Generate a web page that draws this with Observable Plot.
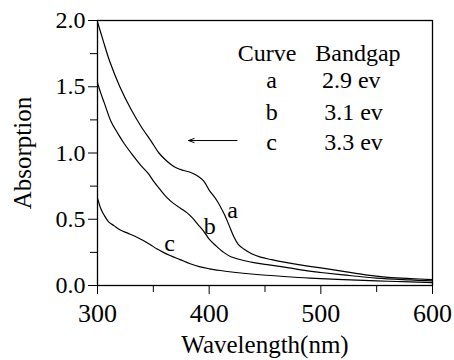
<!DOCTYPE html>
<html><head><meta charset="utf-8">
<script src="https://cdn.jsdelivr.net/npm/d3@7"></script>
<script src="https://cdn.jsdelivr.net/npm/@observablehq/plot@0.6"></script>
<style>html,body{margin:0;background:#fff;overflow:hidden} #chart text{font-family:"Liberation Serif","Times New Roman",serif}</style>
</head><body><div id="chart"></div>
<script>
// Curve a (2.9 ev)
const wlA = [300,305,311,320,330,339,348,355,362,370,377,383,389,395,400,407,414,418,422,426,431,438,446,456,467,480,490,500,520,540,560,580,600];
const absA = [1.99,1.85,1.69,1.50,1.33,1.20,1.09,1.00,0.94,0.89,0.868,0.855,0.83,0.79,0.72,0.64,0.53,0.45,0.37,0.31,0.275,0.24,0.214,0.195,0.176,0.157,0.145,0.133,0.107,0.08,0.062,0.052,0.045];
// Curve b (3.1 ev)
const wlB = [300,303,306,312,318,324,331,339,345,350,356,362,368,374,380,385,390,395,400,406,413,420,431,440,452,470,490,500,520,550,580,600];
const absB = [1.53,1.45,1.38,1.24,1.15,1.07,0.99,0.905,0.85,0.79,0.725,0.665,0.62,0.585,0.55,0.51,0.46,0.41,0.35,0.30,0.25,0.215,0.189,0.172,0.158,0.135,0.108,0.098,0.08,0.055,0.042,0.035];
// Curve c (3.3 ev)
const wlC = [300,303,306,310,315,320,327,334,341,347,353,359,365,374,383,392,400,410,422,440,467,490,520,550,580,600];
const absC = [0.66,0.58,0.53,0.48,0.45,0.42,0.395,0.37,0.34,0.31,0.277,0.25,0.226,0.195,0.164,0.14,0.126,0.113,0.10,0.085,0.068,0.056,0.045,0.035,0.027,0.022];

const curveNames = ["a","b","c"];
const bandgaps = ["2.9 ev","3.1 ev","3.3 ev"];
const xMajor = [300,400,500,600];
const xMinor = [350,450,550];
const yMajor = [0,0.5,1.0,1.5,2.0];
const yMinor = [0.25,0.75,1.25,1.75];

// annotation anchors (data units)
const labelWl = [421,400.5,364.5];
const labelAbs = [0.57,0.445,0.317];
const legendHeaderWl = [425.5,495];
const legendHeaderText = ["Curve","Bandgap"];
const legendRowsAbs = [1.55,1.31,1.08];
const legendHeaderAbs = [1.75,1.75];
const legendLetterWl = [456,456,456];
const legendValueWl = [501,503,503];
const arrowX1 = [425], arrowX2 = [381.5], arrowY = [1.094];

const series = [
  ...wlA.map((w,i)=>({w, a:absA[i], s:"a"})),
  ...wlB.map((w,i)=>({w, a:absB[i], s:"b"})),
  ...wlC.map((w,i)=>({w, a:absC[i], s:"c"}))
];

const ff = "Liberation Serif";
const chart = Plot.plot({
  width:454, height:360,
  marginLeft:97, marginRight:22, marginTop:20, marginBottom:75,
  style:{fontFamily:ff, fontSize:"22px", background:"white", color:"black"},
  x:{domain:[300,600]},
  y:{domain:[0,2]},
  marks:[
    Plot.frame({stroke:"black", strokeWidth:1.3}),
    Plot.axisX(xMajor, {tickSize:9, tickPadding:9, fontSize:26, fontFamily:ff, label:null}),
    Plot.axisX(xMinor, {tickSize:7, tickFormat:()=>"", label:null}),
    Plot.axisY(yMajor, {tickSize:9, tickPadding:3, fontSize:24, fontFamily:ff, label:null, tickFormat:d=>d.toFixed(1)}),
    Plot.axisY(yMinor, {tickSize:7, tickFormat:()=>"", label:null}),
    Plot.line(series, {x:"w", y:"a", z:"s", stroke:"black", strokeWidth:1.2, curve:"catmull-rom"}),
    Plot.text(curveNames, {x:labelWl, y:labelAbs, text:d=>d, fontSize:24, fontFamily:ff}),
    Plot.text(legendHeaderText, {x:legendHeaderWl, y:legendHeaderAbs, text:d=>d, textAnchor:"start", fontSize:24, fontFamily:ff}),
    Plot.text(curveNames, {x:legendLetterWl, y:legendRowsAbs, text:d=>d, fontSize:24, fontFamily:ff}),
    Plot.text(bandgaps, {x:legendValueWl, y:legendRowsAbs, text:d=>d, textAnchor:"start", fontSize:24, fontFamily:ff}),
    Plot.arrow(arrowY, {x1:arrowX1, y1:arrowY, x2:arrowX2, y2:arrowY, stroke:"black", strokeWidth:1, headLength:9, headAngle:40}),
    Plot.text(["Wavelength(nm)"], {text:d=>d, frameAnchor:"bottom", lineAnchor:"middle", dy:59, fontSize:25, fontFamily:ff}),
    Plot.text(["Absorption"], {text:d=>d, frameAnchor:"left", textAnchor:"middle", dx:-75, rotate:-90, fontSize:25, fontFamily:ff})
  ]
});
document.getElementById("chart").append(chart);
</script>
</body></html>
